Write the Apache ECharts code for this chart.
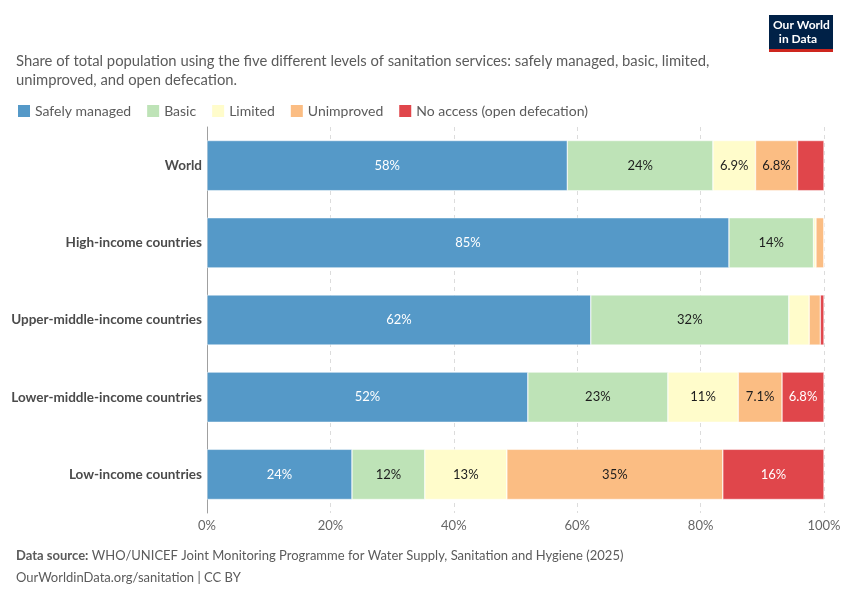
<!DOCTYPE html>
<html>
<head>
<meta charset="utf-8">
<script src="https://cdn.jsdelivr.net/npm/echarts@6/dist/echarts.min.js"></script>
<style>
  html, body { margin: 0; padding: 0; background: #fff; }
  #chart { width: 850px; height: 600px; }
</style>
</head>
<body>
<div id="chart"></div>
<script>
  // categories, top to bottom
  var regions = ['World', 'High-income countries', 'Upper-middle-income countries', 'Lower-middle-income countries', 'Low-income countries'];
  var levels = ['Safely managed', 'Basic', 'Limited', 'Unimproved', 'No access (open defecation)'];
  var colors = ['#5599c8', '#bee3b7', '#fffccb', '#fbbd83', '#e0464b'];
  var labelColors = ['#fff', '#1d1d1d', '#1d1d1d', '#1d1d1d', '#fff'];

  // share of population, percent
  var safelyManaged = [58.4, 84.6, 62.2, 52.0, 23.5];
  var basic = [23.6, 13.7, 32.1, 22.7, 11.8];
  var limited = [6.9, 0.4, 3.3, 11.4, 13.3];
  var unimproved = [6.8, 1.3, 1.8, 7.1, 35.0];
  var openDefecation = [4.3, 0, 0.6, 6.8, 16.4];
  var xTicks = [0, 20, 40, 60, 80, 100];

  var seriesData = [safelyManaged, basic, limited, unimproved, openDefecation];

  var fmt = function (v) {
    if (v < 5) return '';
    return (v >= 9.95 ? Math.round(v) : v.toFixed(1)) + '%';
  };

  var chart = echarts.init(document.getElementById('chart'));
  var series = [];
  for (var i = 0; i < levels.length; i++) {
    series.push({
      name: levels[i],
      type: 'bar',
      stack: 'total',
      barCategoryGap: '35%',
      data: seriesData[i],
      itemStyle: { color: colors[i], borderColor: '#fff', borderWidth: 0.5 },
      label: {
        show: true,
        position: 'inside',
        color: labelColors[i],
        fontFamily: 'Lato',
        fontSize: 13,
        formatter: function (p) { return fmt(p.value); }
      },
      emphasis: { disabled: true }
    });
  }

  var option = {
    animation: false,
    textStyle: { fontFamily: 'Lato' },
    color: colors,
    title: {
      text: 'Share of total population using the five different levels of sanitation services: safely managed, basic, limited,\nunimproved, and open defecation.',
      left: 11,
      top: 47,
      textStyle: { fontFamily: 'Lato', fontSize: 14.8, fontWeight: 'normal', color: '#5b5b5b', lineHeight: 19 }
    },
    legend: {
      left: 11,
      top: 98,
      icon: 'rect',
      itemWidth: 14,
      itemHeight: 14,
      itemGap: 14,
      textStyle: { fontFamily: 'Lato', fontSize: 14, color: '#5b5b5b', padding: [0, 0, 0, -1] },
      selectedMode: false,
      data: levels
    },
    grid: { left: 207, right: 26, top: 127, bottom: 87, containLabel: false },
    xAxis: {
      type: 'value',
      min: 0,
      max: 100,
      interval: 20,
      axisLine: { show: false },
      axisTick: { show: false },
      splitLine: { show: true, lineStyle: { type: [4, 4], color: '#dcdcdc' } },
      axisLabel: {
        color: '#666',
        fontSize: 13,
        margin: 6,
        formatter: function (v) { return xTicks.indexOf(v) >= 0 ? v + '%' : ''; }
      }
    },
    yAxis: {
      type: 'category',
      data: regions,
      inverse: true,
      axisLine: { show: true, lineStyle: { color: '#a0a0a0' } },
      axisTick: { show: false },
      axisLabel: { color: '#4b4b4b', fontWeight: 'bold', fontSize: 13.5, margin: 5 }
    },
    series: series,
    graphic: [
      { type: 'rect', left: 769, top: 15, shape: { width: 64, height: 35 }, style: { fill: '#002147' } },
      { type: 'rect', left: 769, top: 49, shape: { width: 64, height: 3 }, style: { fill: '#ce261e' } },
      { type: 'text', left: 773, top: 18, style: { text: 'Our World\n  in Data', fill: '#fff', font: 'bold 12px Lato', lineHeight: 14 } },
      { type: 'text', left: 16, top: 549, style: { rich: { b: { fill: '#5b5b5b', font: 'bold 13px Lato' }, n: { fill: '#5b5b5b', font: '13px Lato' } }, text: '{b|Data source:} {n|WHO/UNICEF Joint Monitoring Programme for Water Supply, Sanitation and Hygiene (2025)}' } },
      { type: 'text', left: 16, top: 571, style: { text: 'OurWorldinData.org/sanitation | CC BY', fill: '#5b5b5b', font: '13px Lato' } }
    ]
  };
  chart.setOption(option);
</script>
</body>
</html>
